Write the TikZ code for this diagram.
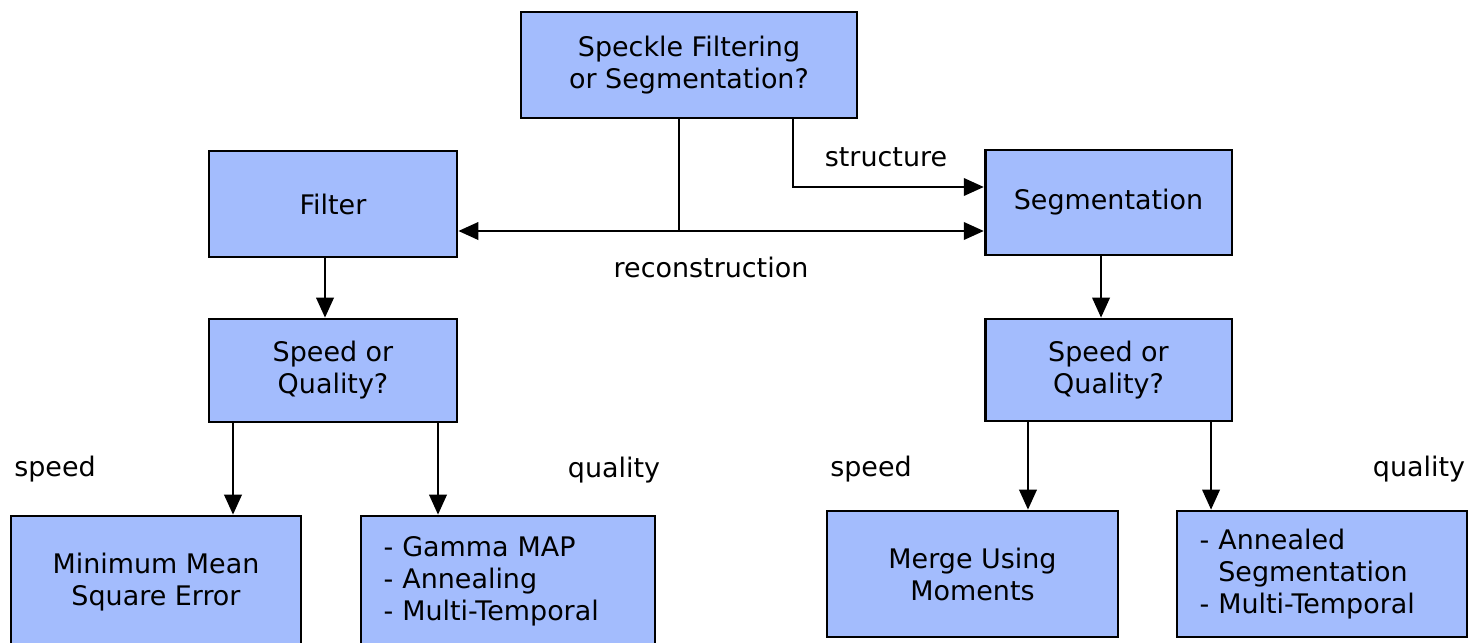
\documentclass[tikz,border=0pt]{standalone}
\usepackage{fontspec}
\setmainfont{DejaVu Sans}
\usetikzlibrary{arrows.meta,calc}
\definecolor{boxblue}{RGB}{163,188,253}

\begin{document}
\begin{tikzpicture}[x=0.75pt,y=-0.75pt,>={Triangle[length=15pt,width=13pt]},
  box/.style={draw,line width=2pt,fill=boxblue,align=center,inner sep=0pt,
    font=\fontsize{20.2}{24}\selectfont},
  listbox/.style={box,align=left,inner xsep=17pt,text width=#1},
  lab/.style={anchor=base,font=\fontsize{20.2}{24}\selectfont},
  line width=2pt]
  \useasboundingbox (0,0) rectangle (1473,642);
  % top question
  \node[box,minimum width=252pt,minimum height=79.5pt] (q0) at (689,65) {Speckle Filtering\\or Segmentation?};
  \node[box,minimum width=186pt,minimum height=79.5pt] (filt) at (333,204) {Filter};
  \node[box,minimum width=185pt,minimum height=78.75pt] (segm) at (1108.5,202.5) {Segmentation};
  \node[box,minimum width=186pt,minimum height=77.25pt] (sql) at (333,370.5) {Speed or\\Quality?};
  \node[box,minimum width=185pt,minimum height=76.5pt] (sqr) at (1108.5,370) {Speed or\\Quality?};
  % leaves (cut by the page edge)
  \node[box,minimum width=217.5pt,minimum height=99pt] (mmse) at (156,582) {Minimum Mean\\Square Error};
  \node[listbox=186.5pt,minimum height=97.5pt] (gmap) at (508,581) {- Gamma MAP\\- Annealing\\- Multi-Temporal};
  \node[box,minimum width=218.25pt,minimum height=94.5pt] (merge) at (972.5,574) {Merge Using\\Moments};
  \node[listbox=183.5pt,minimum height=94.5pt] (anneal) at (1322,574) {- Annealed\\\hphantom{- }Segmentation\\- Multi-Temporal};

  % branches from the top box
  \coordinate (jn) at (679,231);
  \coordinate (st) at (793,187);
  \draw (q0.south -| jn) -- (jn);
  \draw[->] (jn) -- (jn -| filt.east);
  \draw[->] (jn) -- (jn -| segm.west);
  \draw[->] (q0.south -| st) -- (st) -- (st -| segm.west);
  \node[lab] (lstruct) at (886,166) {structure};
  \node[lab] (lrecon) at (711,277) {reconstruction};

  \draw[->] ([xshift=-6pt]filt.south) -- ([xshift=-6pt]sql.north);
  \draw[->] ([xshift=-5.6pt]segm.south) -- ([xshift=-5.6pt]sqr.north);

  \draw[->] ([xshift=-75pt]sql.south) -- ([xshift=-75pt]sql.south |- mmse.north);
  \draw[->] ([xshift=78.75pt]sql.south) -- ([xshift=78.75pt]sql.south |- gmap.north);
  \draw[->] ([xshift=-60.4pt]sqr.south) -- ([xshift=-60.4pt]sqr.south |- merge.north);
  \draw[->] ([xshift=76.9pt]sqr.south) -- ([xshift=76.9pt]sqr.south |- anneal.north);

  \node[lab] (lsp1) at (55,476) {speed};
  \node[lab] (lq1) at (614,477) {quality};
  \node[lab] (lsp2) at (871,476) {speed};
  \node[lab] (lq2) at (1419,476) {quality};
\end{tikzpicture}
\end{document}
